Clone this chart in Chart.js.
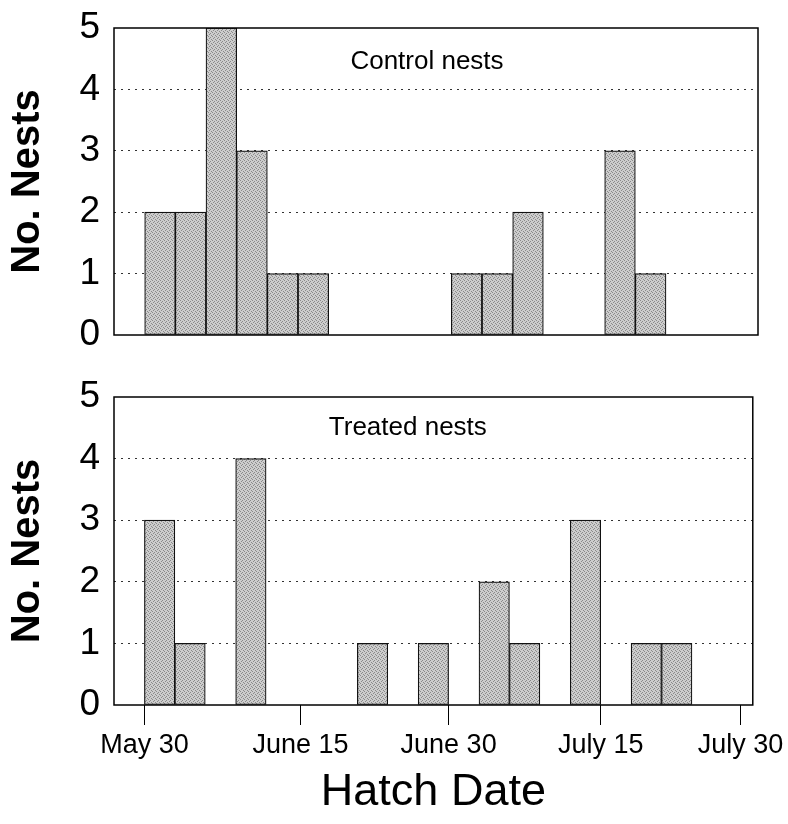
<!DOCTYPE html>
<html>
<head>
<meta charset="utf-8">
<script src="https://cdn.jsdelivr.net/npm/chart.js@4/dist/chart.umd.min.js"></script>
<style>
  html, body { margin: 0; padding: 0; background: #fff; overflow: hidden; }
  #wrap { position: relative; width: 788px; height: 824px; overflow: hidden; }
  .box { position: absolute; left: 0; width: 788px; }
</style>
</head>
<body>
<div id="wrap">
  <div class="box" style="top:-20px;height:395px"><canvas id="control"></canvas></div>
  <div class="box" style="top:355px;height:469px"><canvas id="treated"></canvas></div>
</div>
<script>
// hatch date bins: days after May 30, each bin 3 days wide
const binStart = [0, 3, 6, 9, 12, 15, 18, 21, 24, 27, 30, 33, 36, 39, 42, 45, 48, 51, 54, 57]
const binWidth = 3
const controlNests = [2, 2, 5, 3, 1, 1, 0, 0, 0, 0, 1, 1, 2, 0, 0, 3, 1, 0, 0, 0]
const treatedNests = [3, 1, 0, 4, 0, 0, 0, 1, 0, 1, 0, 2, 1, 0, 3, 0, 1, 1, 0, 0]
const tickDays = [0, 15.4, 30, 45, 58.8]
const tickLabels = ['May 30', 'June 15', 'June 30', 'July 15', 'July 30']

const FONT = "'Liberation Sans', Arial, Helvetica, sans-serif"

function halftone() {
  const c = document.createElement('canvas')
  c.width = 4; c.height = 4
  const g = c.getContext('2d')
  g.fillStyle = '#cdcdcd'
  g.fillRect(0, 0, 4, 4)
  g.fillStyle = '#8a8a8a'
  ;[[0, 0], [2, 1], [1, 2], [3, 3]].forEach(([x, y]) => g.fillRect(x, y, 1, 1))
  return g.createPattern(c, 'repeat')
}

// box round the plot area + the panel caption
const framePlugin = {
  id: 'frame',
  afterDatasetsDraw(chart, args, opts) {
    const { ctx, chartArea: a } = chart
    ctx.save()
    ctx.strokeStyle = '#000'
    ctx.lineWidth = 1.5
    ctx.strokeRect(a.left, a.top, a.right - a.left, a.bottom - a.top)
    ctx.fillStyle = '#000'
    ctx.font = `26px ${FONT}`
    ctx.textAlign = 'center'
    ctx.textBaseline = 'middle'
    ctx.fillText(opts.text, a.left + opts.xFrac * (a.right - a.left), a.top + opts.dy)
    ctx.restore()
  }
}

function makeChart(id, counts, caption, showX) {
  // top canvas starts 20px above the page so its plot area still begins at y=28
  const pad = showX ? { top: 42, right: 32, bottom: 0, left: 0 } : { top: 48, right: 30, bottom: 0, left: 0 }
  return new Chart(id, {
    type: 'bar',
    data: {
      datasets: [{
        data: binStart.map((d, i) => ({ x: d + binWidth / 2, y: counts[i] || null })),
        backgroundColor: halftone(),
        borderColor: '#111',
        borderWidth: 1.2,
        borderSkipped: false,
        barPercentage: 1,
        categoryPercentage: 1
      }]
    },
    plugins: [framePlugin],
    options: {
      responsive: true,
      maintainAspectRatio: false,
      animation: false,
      layout: { padding: pad, autoPadding: false },
      plugins: {
        legend: { display: false },
        tooltip: { enabled: false },
        frame: caption
      },
      scales: {
        x: {
          type: 'linear',
          offset: false,
          min: -3,
          max: 60,
          afterBuildTicks: s => { s.ticks = tickDays.map(v => ({ value: v })) },
          afterFit: s => { s.height = showX ? 119 : 40 },
          ticks: {
            display: showX,
            autoSkip: false,
            maxRotation: 0,
            padding: 4,
            color: '#000',
            font: { family: FONT, size: 27 },
            callback: (v, i) => tickLabels[i]
          },
          grid: { display: showX, offset: false, drawOnChartArea: false, drawTicks: true, tickLength: 20, color: '#000', lineWidth: 1 },
          border: { display: false },
          title: {
            display: showX,
            text: 'Hatch Date',
            color: '#000',
            font: { family: FONT, size: 45 },
            padding: { top: 0, bottom: 4 }
          }
        },
        y: {
          min: 0,
          max: 5,
          afterFit: s => { s.width = 114 },
          ticks: {
            stepSize: 1,
            autoSkip: false,
            padding: 14,
            color: '#000',
            font: { family: FONT, size: 37 }
          },
          grid: {
            drawTicks: false,
            color: c => (c.tick.value === 0 || c.tick.value === 5) ? 'rgba(0,0,0,0)' : '#333',
            lineWidth: 1,
            borderDash: [2, 5]
          },
          border: { display: false, dash: [2, 5] },
          title: {
            display: true,
            text: 'No. Nests',
            color: '#000',
            font: { family: FONT, size: 40, weight: 'bold' },
            padding: { top: 4, bottom: 0 }
          }
        }
      }
    }
  })
}

makeChart('control', controlNests, { text: 'Control nests', xFrac: 0.486, dy: 34 }, false)
makeChart('treated', treatedNests, { text: 'Treated nests', xFrac: 0.46, dy: 31 }, true)
</script>
</body>
</html>
